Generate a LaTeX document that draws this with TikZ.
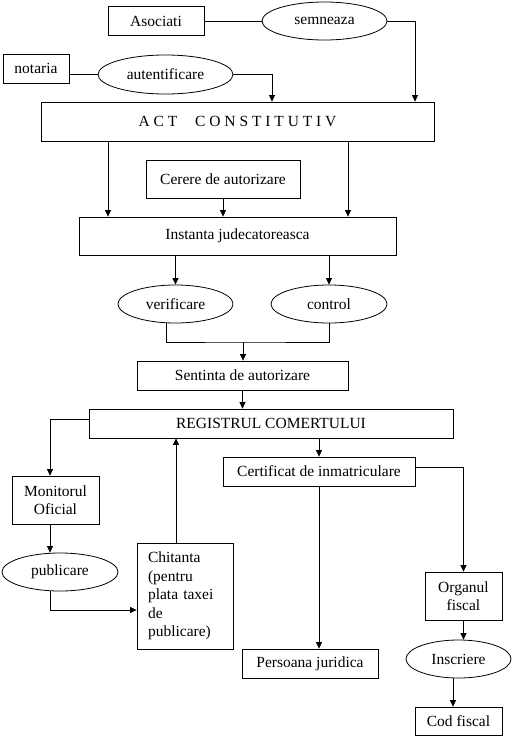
\documentclass[tikz,border=0pt]{standalone}
\usepackage{fontspec}
\setmainfont{Liberation Serif}
\usetikzlibrary{arrows.meta,shapes.geometric,calc}
\tikzset{
  box/.style={draw, line width=0.8pt, inner sep=0pt, align=center, font=\fontsize{15.5}{18.5}\selectfont},
  oval/.style={draw, ellipse, line width=0.8pt, inner sep=0pt, font=\fontsize{15.5}{18.5}\selectfont},
  conn/.style={line width=0.8pt},
  arr/.style={line width=0.8pt, -{Triangle[width=6pt,length=6.5pt]}}
}
\begin{document}
\begin{tikzpicture}[x=1pt,y=-1pt]
\useasboundingbox (0,0) rectangle (515,739);
% nodes
\node[box, minimum width=96pt, minimum height=29pt] (asoc) at (156,21) {Asociati};
\node[oval, minimum width=125pt, minimum height=38pt] (semn) at (324.5,21) {semneaza};
\node[box, minimum width=66pt, minimum height=29pt] (notar) at (36,68.5) {notaria};
\node[oval, minimum width=135pt, minimum height=39pt] (aut) at (165.5,74.5) {autentificare};
\node[box, minimum width=393pt, minimum height=39pt] (act) at (237.5,121.5) {A C T\hspace{14pt} C O N S T I T U T I V};
\node[box, minimum width=154pt, minimum height=38pt] (cerere) at (223,179) {Cerere de autorizare};
\node[box, minimum width=317pt, minimum height=38pt] (inst) at (237.5,236) {Instanta judecatoreasca};
\node[oval, minimum width=115pt, minimum height=38pt] (verif) at (175.5,304) {verificare};
\node[oval, minimum width=116pt, minimum height=38pt] (ctrl) at (329,304) {control};
\coordinate (join) at (243,342);
\node[box, minimum width=211pt, minimum height=29pt] (sent) at (242.5,375.5) {Sentinta de autorizare};
\node[box, minimum width=364pt, minimum height=29pt] (reg) at (271,423.5) {REGISTRUL COMERTULUI};
\node[box, minimum width=87pt, minimum height=48pt] (mon) at (55.5,500) {Monitorul\\Oficial};
\node[oval, minimum width=116pt, minimum height=38pt] (pub) at (60,572) {publicare};
\node[box, minimum width=96pt, minimum height=106pt, text width=74pt, align=left, inner xsep=11pt] (chit) at (185,596) {Chitanta\\(pentru\\plata taxei\\de\\publicare)};
\node[box, minimum width=192pt, minimum height=29pt] (cert) at (319,471.5) {Certificat de inmatriculare};
\node[box, minimum width=136pt, minimum height=29pt] (pers) at (310,663.5) {Persoana juridica};
\node[box, minimum width=77pt, minimum height=48pt] (org) at (463.5,596) {Organul\\fiscal};
\node[oval, minimum width=105pt, minimum height=38pt] (insc) at (458.5,659) {Inscriere};
\node[box, minimum width=87pt, minimum height=28pt] (cod) at (458.5,721) {Cod fiscal};
% connectors
\draw[conn] (asoc.east) -- (semn.west);
\draw[arr] (semn.east) -| ([xshift=177.5pt]act.north);
\draw[conn] (notar.east |- aut.west) -- (aut.west);
\draw[arr] (aut.east) -| ([xshift=34.5pt]act.north);
\draw[arr] ([xshift=-129.5pt]act.south) -- ([xshift=-129.5pt]act.south |- inst.north);
\draw[arr] ([xshift=110.5pt]act.south) -- ([xshift=110.5pt]act.south |- inst.north);
\draw[arr] (cerere.south) -- (cerere.south |- inst.north);
\draw[arr] (inst.south -| verif.north) -- (verif.north);
\draw[arr] (inst.south -| ctrl.north) -- (ctrl.north);
\draw[conn] ([xshift=-9.5pt]verif.south) |- (join) -| (ctrl.south);
\draw[arr] (join) -- (join |- sent.north);
\draw[arr] (sent.south) -- (sent.south |- reg.north);
\draw[arr] ([yshift=4.5pt]reg.west) -| ([xshift=-5.5pt]mon.north);
\draw[arr] ([xshift=-5.5pt]mon.south) -- ([xshift=-10pt]pub.north);
\draw[arr] ([xshift=-10pt]pub.south) |- ([yshift=-14pt]chit.west);
\draw[arr] ([xshift=-9pt]chit.north) -- ([xshift=-9pt]chit.north |- reg.south);
\draw[arr] (reg.south -| cert.north) -- (cert.north);
\draw[arr] (cert.south) -- (cert.south |- pers.north);
\draw[arr] ([yshift=4.5pt]cert.east) -| (org.north);
\draw[arr] (org.south) -- (org.south |- insc.north);
\draw[arr] ([xshift=-5.5pt]insc.south) -- ([xshift=-5.5pt]insc.south |- cod.north);
\end{tikzpicture}
\end{document}
